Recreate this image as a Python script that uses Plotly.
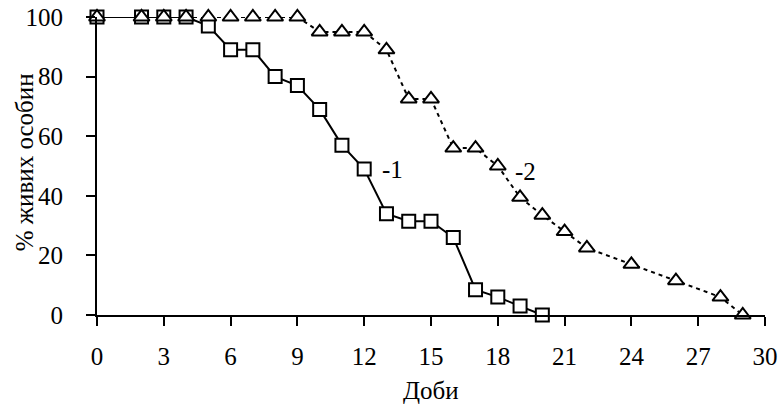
import plotly.graph_objects as go

days_1 = [0, 2, 3, 4, 5, 6, 7, 8, 9, 10, 11, 12, 13, 14, 15, 16, 17, 18, 19, 20]
alive_1 = [100, 100, 100, 100, 97, 89, 89, 80, 77, 69, 57, 49, 34, 31.5, 31.5, 26, 8.5, 6, 3, 0]

days_2 = [0, 2, 3, 4, 5, 6, 7, 8, 9, 10, 11, 12, 13, 14, 15, 16, 17, 18, 19, 20, 21, 22, 24, 26, 28, 29]
alive_2 = [100, 100, 100, 100, 100, 100, 100, 100, 100, 95, 95, 95, 89, 72.5, 72.5, 56, 56, 50, 39.5, 33.5, 28, 22.5, 17, 11.5, 6, 0]

x_ticks = [0, 3, 6, 9, 12, 15, 18, 21, 24, 27, 30]
y_ticks = [0, 20, 40, 60, 80, 100]
series_labels = ["-1", "-2"]
x_title = "Доби"
y_title = "% живих особин"

FONT = "Liberation Serif"
FS = 25

fig = go.Figure()
fig.add_trace(go.Scatter(
    x=days_1, y=alive_1, mode="lines+markers",
    line=dict(color="black", width=2),
    marker=dict(symbol="square", size=13, color="white", line=dict(color="black", width=2)),
    cliponaxis=False, showlegend=False,
))
fig.add_trace(go.Scatter(
    x=days_2, y=alive_2, mode="lines+markers",
    line=dict(color="black", width=2, dash="4px,4px"),
    marker=dict(symbol="triangle-up", size=14, color="white", line=dict(color="black", width=2)),
    cliponaxis=False, showlegend=False,
))

fig.add_annotation(x=days_1[11], y=alive_1[11], text=series_labels[0], showarrow=False,
                   xanchor="left", yanchor="middle", xshift=16, yshift=-1,
                   font=dict(family=FONT, size=FS, color="black"))
fig.add_annotation(x=days_2[17], y=alive_2[17], text=series_labels[1], showarrow=False,
                   xanchor="left", yanchor="middle", xshift=15, yshift=-5,
                   font=dict(family=FONT, size=FS, color="black"))

# axis titles
fig.add_annotation(xref="paper", yref="paper", x=0.5, y=-0.255, text=x_title, showarrow=False,
                   xanchor="center", yanchor="middle", font=dict(family=FONT, size=FS, color="black"))
fig.add_annotation(xref="paper", yref="paper", x=-0.108, y=0.512, text=y_title, showarrow=False,
                   textangle=-90, xanchor="center", yanchor="middle",
                   font=dict(family=FONT, size=FS, color="black"))

fig.update_layout(
    width=780, height=405,
    margin=dict(l=97, r=15, t=17, b=90, autoexpand=False),
    plot_bgcolor="white", paper_bgcolor="white",
    font=dict(family=FONT, size=FS, color="black"),
)
fig.update_xaxes(
    range=[0, 30], tickmode="array", tickvals=x_ticks, ticktext=[str(v) for v in x_ticks],
    showgrid=False, zeroline=False, showline=True, linecolor="black", linewidth=2,
    ticks="outside", ticklen=9, tickwidth=2, tickcolor="black",
    ticklabelstandoff=9, automargin=False,
)
fig.update_yaxes(
    range=[0, 100], tickmode="array", tickvals=y_ticks, ticktext=[str(v) for v in y_ticks],
    showgrid=False, zeroline=False, showline=True, linecolor="black", linewidth=2,
    ticks="outside", ticklen=9, tickwidth=2, tickcolor="black",
    ticklabelstandoff=18, automargin=False,
)

# remove the default 8px page margin so the figure fills the 780x405 window
fig.write_html("out.html", config={"displayModeBar": False},
               post_script="document.body.style.margin='0';")
